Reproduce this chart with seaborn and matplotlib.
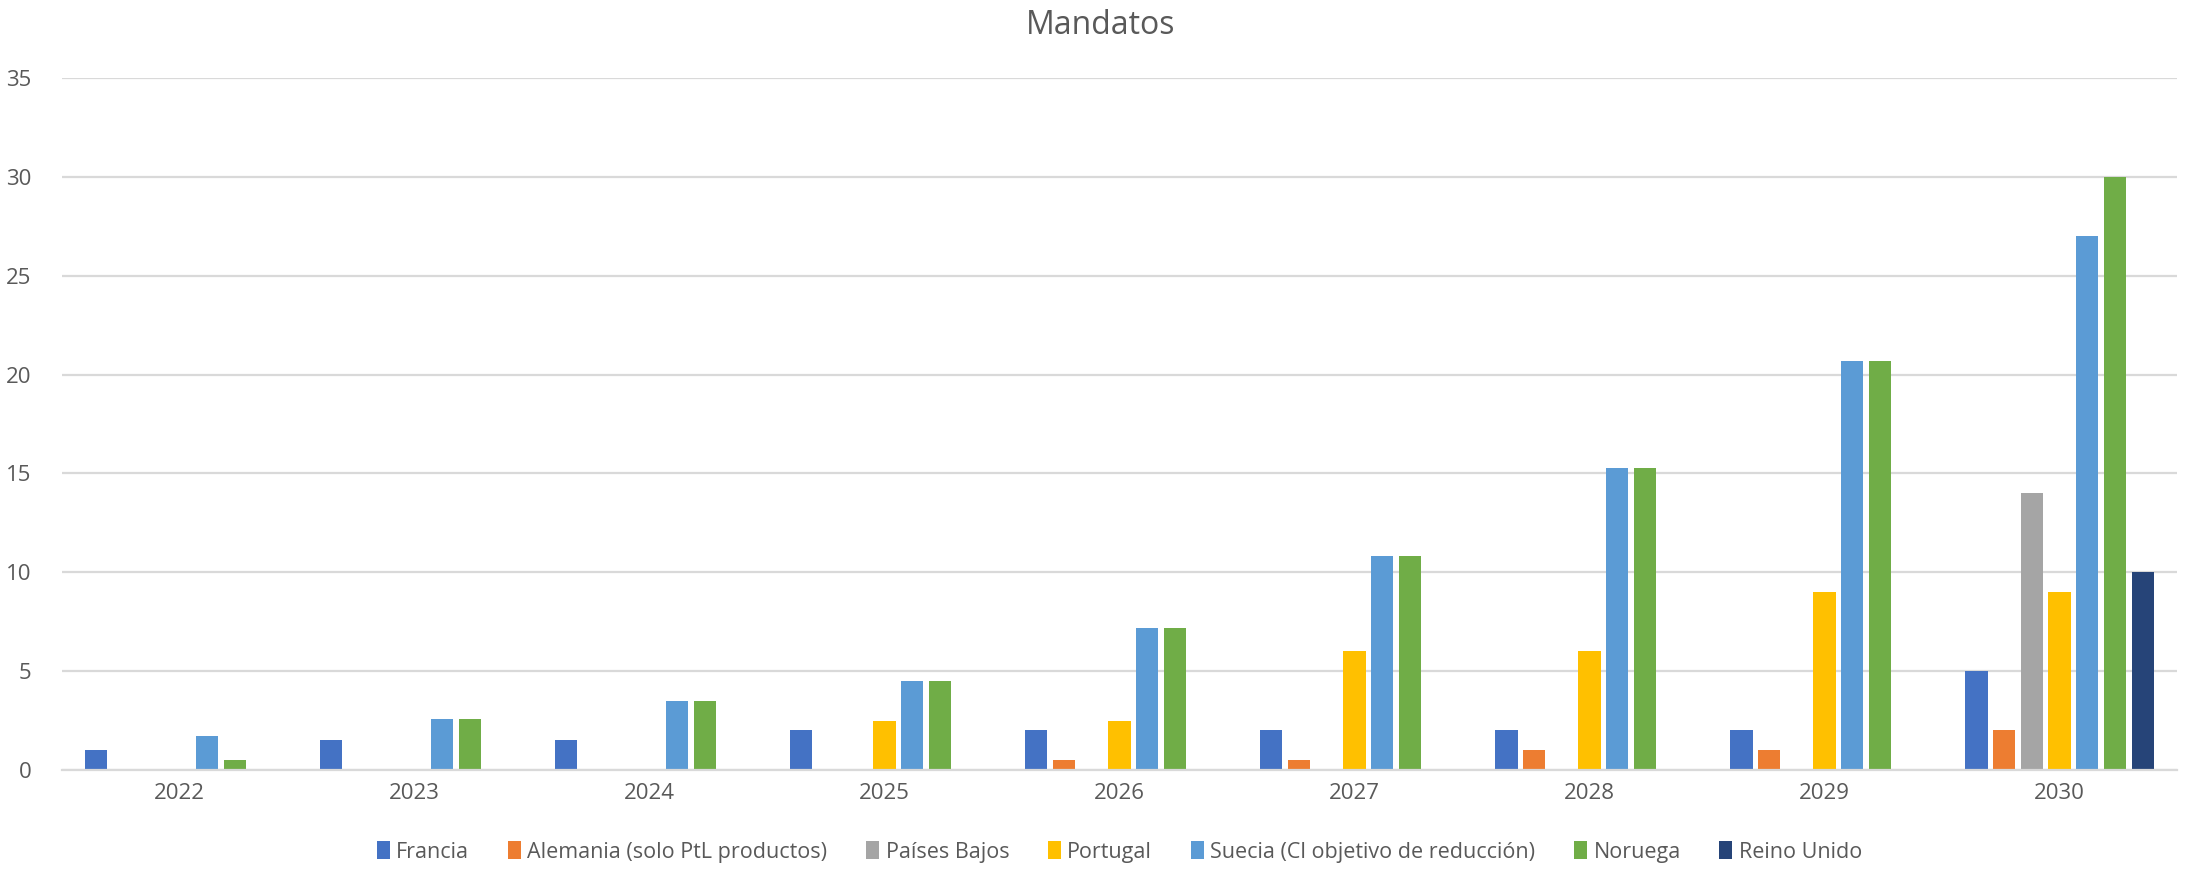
import matplotlib
matplotlib.use("Agg")
import matplotlib.pyplot as plt
import seaborn as sns
import pandas as pd

years = ["2022", "2023", "2024", "2025", "2026", "2027", "2028", "2029", "2030"]
series_names = ["Francia", "Alemania (solo PtL productos)", "Países Bajos", "Portugal",
                "Suecia (Cl objetivo de reducción)", "Noruega", "Reino Unido"]
francia = [1, 1.5, 1.5, 2, 2, 2, 2, 2, 5]
alemania = [0, 0, 0, 0, 0.5, 0.5, 1, 1, 2]
paises_bajos = [0, 0, 0, 0, 0, 0, 0, 0, 14]
portugal = [0, 0, 0, 2.5, 2.5, 6, 6, 9, 9]
suecia = [1.7, 2.6, 3.5, 4.5, 7.2, 10.8, 15.3, 20.7, 27]
noruega = [0.5, 2.6, 3.5, 4.5, 7.2, 10.8, 15.3, 20.7, 30]
reino_unido = [0, 0, 0, 0, 0, 0, 0, 0, 10]
colors = ["#4472C4", "#ED7D31", "#A5A5A5", "#FFC000", "#5B9BD5", "#70AD47", "#264478"]

values = [francia, alemania, paises_bajos, portugal, suecia, noruega, reino_unido]
rows = []
for name, vals in zip(series_names, values):
    for y, v in zip(years, vals):
        rows.append({"Año": y, "Serie": name, "Valor": v})
df = pd.DataFrame(rows)

sns.set_theme(style="white")
plt.rcParams["font.family"] = ["Open Sans", "DejaVu Sans"]
txt = "#595959"

fig = plt.figure(figsize=(21.88, 8.69), dpi=100)
ax = fig.add_axes([0.0283, 0.1139, 0.9667, 0.7963])
sns.barplot(data=df, x="Año", y="Valor", hue="Serie", order=years, hue_order=series_names,
            palette=colors, saturation=1, width=0.825, gap=0.2, linewidth=0, ax=ax,
            errorbar=None)

ax.set_ylim(0, 35)
ax.set_yticks(range(0, 36, 5))
ax.set_xlim(-0.5, len(years) - 0.5)
ax.yaxis.grid(True, color="#d9d9d9", linewidth=1.6)
ax.set_axisbelow(True)
for s in ["top", "right", "left"]:
    ax.spines[s].set_visible(False)
ax.spines["bottom"].set_color("#d9d9d9")
ax.spines["bottom"].set_linewidth(1.6)
ax.set_xlabel("")
ax.set_ylabel("")
ax.tick_params(axis="both", length=0, labelsize=16, labelcolor=txt)
ax.tick_params(axis="x", pad=9)
ax.tick_params(axis="y", pad=22)
for lab in ax.get_yticklabels():
    lab.set_horizontalalignment("right")

fig.suptitle("Mandatos", x=0.503, y=0.99, fontsize=23, color=txt, va="top")

sns.move_legend(ax, "lower center", bbox_to_anchor=(0.5, -0.162), ncol=7, frameon=False,
                fontsize=15.5, handlelength=0.6, handleheight=0.9, handletextpad=0.3,
                columnspacing=1.8, title=None, labelcolor=txt)

fig.savefig("out.png", dpi=100, facecolor="white")
